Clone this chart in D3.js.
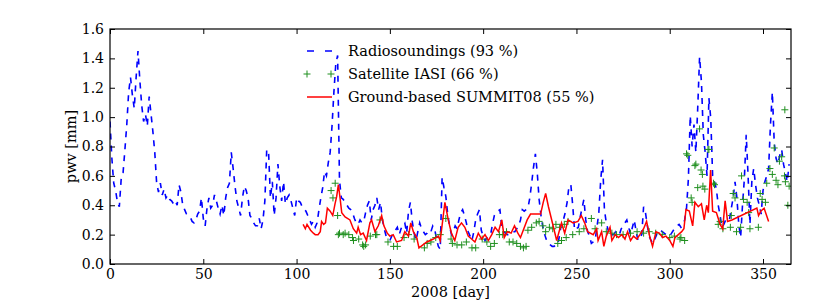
<!DOCTYPE html>
<html>
<head>
<meta charset="utf-8">
<script src="https://cdn.jsdelivr.net/npm/d3@7"></script>
<style>
  body { margin: 0; background: #fff; }
  text { font-family: "DejaVu Serif", serif; fill: #000; }
</style>
</head>
<body>
<div class="container"></div>
<script>
// radiosoundings, one value per day starting at day 0
var radioValues = [
  0.97,0.72,0.55,0.50,0.42,0.39,0.58,0.62,0.78,0.95,1.17,1.27,1.15,1.06,1.27,1.45,1.25,1.08,0.97,1.02,
  0.94,1.14,1.02,0.90,0.76,0.55,0.49,0.55,0.47,0.51,0.45,0.47,0.44,0.43,0.41,0.43,0.40,0.54,0.49,0.40,
  0.37,0.34,0.33,0.32,0.29,0.28,0.30,0.34,0.36,0.45,0.31,0.26,0.38,0.45,0.38,0.40,0.47,0.43,0.38,0.34,
  0.40,0.33,0.45,0.52,0.55,0.76,0.65,0.53,0.43,0.38,0.33,0.45,0.53,0.50,0.45,0.33,0.31,0.28,0.26,0.26,
  0.31,0.24,0.30,0.43,0.78,0.76,0.45,0.56,0.33,0.45,0.68,0.53,0.43,0.56,0.41,0.45,0.47,0.43,0.38,0.33,
  0.45,0.43,0.42,0.39,0.37,0.36,0.33,0.30,0.27,0.29,0.25,0.28,0.37,0.45,0.52,0.63,0.60,0.69,0.76,0.94,
  1.17,1.36,1.42,0.57,0.45,0.44,0.42,0.40,0.38,0.37,0.35,0.31,0.28,0.27,0.30,0.28,0.29,0.35,0.40,0.43,
  0.30,0.37,0.40,0.45,0.37,0.42,0.30,0.24,0.19,0.17,0.16,0.19,0.21,0.23,0.25,0.20,0.24,0.27,0.28,0.21,
  0.36,0.42,0.29,0.21,0.16,0.22,0.28,0.24,0.22,0.20,0.21,0.23,0.22,0.26,0.24,0.17,0.12,0.10,0.59,0.52,
  0.46,0.34,0.26,0.20,0.22,0.26,0.24,0.30,0.35,0.37,0.33,0.28,0.22,0.19,0.16,0.22,0.30,0.34,0.37,0.23,
  0.19,0.16,0.18,0.19,0.20,0.27,0.33,0.35,0.36,0.37,0.25,0.22,0.21,0.20,0.20,0.21,0.22,0.22,0.24,0.26,
  0.30,0.37,0.36,0.37,0.38,0.45,0.55,0.66,0.75,0.62,0.44,0.33,0.25,0.20,0.16,0.14,0.13,0.12,0.12,0.13,
  0.13,0.20,0.28,0.30,0.35,0.42,0.53,0.54,0.40,0.23,0.24,0.25,0.32,0.38,0.44,0.30,0.22,0.19,0.14,0.15,
  0.16,0.25,0.35,0.57,0.71,0.37,0.28,0.23,0.19,0.20,0.20,0.22,0.21,0.20,0.24,0.26,0.28,0.30,0.25,0.20,
  0.25,0.30,0.22,0.16,0.18,0.20,0.39,0.35,0.26,0.19,0.16,0.14,0.17,0.20,0.22,0.23,0.22,0.21,0.20,0.19,
  0.19,0.21,0.23,0.25,0.26,0.27,0.25,0.26,0.30,0.38,0.58,1.01,0.80,0.95,0.76,1.06,1.41,1.24,0.88,0.76,
  0.60,1.13,0.99,0.60,0.56,0.51,0.40,0.33,0.25,0.27,0.30,0.31,0.30,0.38,0.45,0.56,0.45,0.27,0.18,0.40,
  0.58,0.88,0.60,0.27,0.56,0.65,0.54,0.45,0.40,0.34,0.50,0.56,0.60,0.65,0.95,1.17,0.83,0.72,0.68,0.74,
  0.78,0.68,0.62,0.56,0.68
];

var iasiDays = [
  118.5,119.5,120.7,122,122.4,123,125,126,128,130,130.5,133.3,135.4,136,137,139.5,142.3,143,144.7,149,
  152,154,157.6,160,163,168.5,170,172,174.6,177,180,182.8,183.5,186,188.5,191,194,196,199.5,202,
  204,206,208.7,210.5,212.5,214,216,218,220,221.6,223,224,226,228.5,230,232,233.5,235.5,237.3,239,
  240,241,242,243.5,244.5,245.5,248,251.5,254,258,260,263.5,266,269,271.5,275,279,282.5,286,289,
  292.5,296,300,302.5,305.5,306,308,309,309.7,311.5,312,313.5,314,315,316,316.8,317.5,317.8,318.8,320.5,
  321,323.5,324,326,327,328.5,332.5,333,334,335,335.8,338,338.5,339.5,341.5,342.3,343,347.5,348.5,349.5,
  351.3,352,353.7,355,356,357,358,358.8,360,361.5,361.7,362,363.3,364
];
var iasiValues = [
  0.50,0.45,0.55,0.33,0.20,0.21,0.20,0.21,0.20,0.18,0.16,0.17,0.13,0.12,0.13,0.19,0.20,0.20,0.30,0.15,
  0.12,0.12,0.18,0.20,0.17,0.11,0.14,0.15,0.18,0.20,0.31,0.17,0.14,0.13,0.13,0.15,0.11,0.11,0.17,0.15,
  0.12,0.14,0.20,0.20,0.22,0.15,0.15,0.14,0.12,0.11,0.12,0.23,0.25,0.28,0.29,0.26,0.22,0.25,0.24,0.27,
  0.14,0.25,0.16,0.27,0.18,0.29,0.20,0.22,0.24,0.31,0.24,0.28,0.22,0.21,0.20,0.20,0.21,0.22,0.21,0.22,
  0.21,0.20,0.18,0.19,0.17,0.18,0.16,0.75,0.74,0.45,0.42,0.67,0.68,0.52,0.92,0.64,0.61,0.53,0.51,0.78,
  0.78,0.55,0.54,0.27,0.29,0.24,0.25,0.33,0.48,0.45,0.22,0.25,0.60,0.44,0.42,0.35,0.24,0.25,0.48,0.44,
  0.42,0.55,0.65,0.61,0.79,0.57,0.54,0.70,0.73,0.60,1.05,0.56,0.40,0.53
];

var summitDays = [
  103.5,104.7,105.6,107.5,109,110,111.5,112.7,113.4,114.5,115.5,116.5,118,119.4,120.6,121.5,122.4,123.3,124.2,126,
  128.6,130.4,132.2,133,134.3,135.7,137.5,139.3,140.2,142,143.8,145.6,146.8,148.6,150,151.8,153.6,156.3,158,160,
  161.2,162.6,164.4,165.6,169.8,173.3,176,177,179.5,181.3,183,184.8,186.6,188.4,190.2,192,193.8,195.6,197.4,199.2,
  201,202.8,204.6,206.4,208.2,210,211.3,213,215,216.8,218.6,220,221.8,223.6,225.4,227.2,230.8,232.2,233.5,235,
  237.7,239.4,242,243.7,245.5,248.2,250.8,252.6,254.4,256,259,260.8,261.6,263.5,264.7,266,268,269,270.8,272.5,
  274.3,276,277.4,279,280.6,282.4,284,286,287.6,289.4,290.8,292.6,294.4,296.2,298,300,301.7,302.8,304.6,306.4,
  307.6,308.7,310.5,312.3,313.5,315.3,317,318.5,319.8,320.7,321.9,323,325,327,328.4,329.7,331,333.3,346.7,347.6,
  348.8,350.6,353
];
var summitValues = [
  0.27,0.24,0.27,0.23,0.21,0.20,0.20,0.22,0.29,0.27,0.28,0.38,0.36,0.33,0.41,0.46,0.54,0.45,0.35,0.32,
  0.30,0.24,0.21,0.25,0.20,0.21,0.16,0.28,0.30,0.22,0.26,0.33,0.26,0.21,0.19,0.20,0.15,0.16,0.22,0.19,
  0.28,0.22,0.18,0.11,0.15,0.17,0.19,0.16,0.42,0.30,0.21,0.16,0.25,0.28,0.25,0.19,0.17,0.15,0.21,0.17,
  0.20,0.16,0.20,0.25,0.22,0.30,0.18,0.22,0.21,0.26,0.21,0.18,0.24,0.30,0.34,0.34,0.34,0.42,0.48,0.39,
  0.25,0.16,0.28,0.21,0.30,0.28,0.29,0.33,0.28,0.22,0.20,0.24,0.16,0.22,0.12,0.19,0.25,0.16,0.20,0.18,
  0.20,0.17,0.22,0.16,0.19,0.17,0.20,0.24,0.29,0.18,0.12,0.22,0.21,0.18,0.19,0.16,0.12,0.18,0.20,0.22,
  0.24,0.37,0.36,0.26,0.42,0.39,0.41,0.30,0.40,0.35,0.64,0.36,0.35,0.27,0.24,0.43,0.29,0.30,0.38,0.33,
  0.36,0.38,0.29
];

var xTicks = [0, 50, 100, 150, 200, 250, 300, 350];
var yTicks = [0.0, 0.2, 0.4, 0.6, 0.8, 1.0, 1.2, 1.4, 1.6];
var legendLabels = ['Radiosoundings (93 %)', 'Satellite IASI (66 %)', 'Ground-based SUMMIT08 (55 %)'];

const WIDTH = 830;
const HEIGHT = 302;
const LEFT = 110, RIGHT = 791, TOP = 29, BOTTOM = 264;
const BLUE = '#0000ff', GREEN = '#1f8f1f', RED = '#ff0000';

var svg = d3.select('.container').append('svg')
    .attr('width', WIDTH)
    .attr('height', HEIGHT);

var xScale = d3.scaleLinear().domain([0, 365]).range([LEFT, RIGHT]);
var yScale = d3.scaleLinear().domain([0, 1.6]).range([BOTTOM, TOP]);

var plot = svg.append('g');
plot.append('clipPath').attr('id', 'clip')
    .append('rect')
    .attr('x', LEFT).attr('y', TOP)
    .attr('width', RIGHT - LEFT).attr('height', BOTTOM - TOP);

var data = plot.append('g').attr('clip-path', 'url(#clip)');

// radiosoundings: blue dashed line
var radio = radioValues.map(function (v, i) { return [i, v]; });
var line = d3.line()
    .x(function (d) { return xScale(d[0]); })
    .y(function (d) { return yScale(d[1]); });

data.append('path')
    .datum(radio)
    .attr('d', line)
    .attr('fill', 'none')
    .attr('stroke', BLUE)
    .attr('stroke-width', 1.6)
    .attr('stroke-dasharray', '6,6');

// IASI: green plus markers
data.selectAll('path.iasi')
    .data(iasiDays.map(function (d, i) { return [d, iasiValues[i]]; }))
    .enter().append('path')
    .attr('class', 'iasi')
    .attr('d', 'M-3.5,0H3.5M0,-3.5V3.5')
    .attr('transform', function (d) { return 'translate(' + xScale(d[0]) + ',' + yScale(d[1]) + ')'; })
    .attr('stroke', GREEN)
    .attr('stroke-width', 1)
    .attr('fill', 'none');

// SUMMIT08: red line
data.append('path')
    .datum(summitDays.map(function (d, i) { return [d, summitValues[i]]; }))
    .attr('d', line)
    .attr('fill', 'none')
    .attr('stroke', RED)
    .attr('stroke-width', 1.5);

// frame
plot.append('rect')
    .attr('x', LEFT).attr('y', TOP)
    .attr('width', RIGHT - LEFT).attr('height', BOTTOM - TOP)
    .attr('fill', 'none')
    .attr('stroke', '#000')
    .attr('stroke-width', 1.2);

// axes, ticks pointing inward on all four sides
var xAxis = d3.axisBottom(xScale).tickValues(xTicks).tickSizeInner(-5).tickSizeOuter(0).tickPadding(5);
var xTop = d3.axisTop(xScale).tickValues(xTicks).tickSizeInner(-5).tickSizeOuter(0).tickFormat('');
var yAxis = d3.axisLeft(yScale).tickValues(yTicks).tickSizeInner(-5).tickSizeOuter(0).tickPadding(6)
    .tickFormat(d3.format('.1f'));
var yRight = d3.axisRight(yScale).tickValues(yTicks).tickSizeInner(-5).tickSizeOuter(0).tickFormat('');

function styleAxis(g) {
    g.select('.domain').remove();
    g.selectAll('.tick line').attr('stroke', '#000').attr('stroke-width', 1);
    g.selectAll('.tick text').attr('font-family', '"DejaVu Serif", serif').attr('font-size', 14).attr('fill', '#000');
}

plot.append('g').attr('transform', 'translate(0,' + BOTTOM + ')').call(xAxis).call(styleAxis);
plot.append('g').attr('transform', 'translate(0,' + TOP + ')').call(xTop).call(styleAxis);
plot.append('g').attr('transform', 'translate(' + LEFT + ',0)').call(yAxis).call(styleAxis);
plot.append('g').attr('transform', 'translate(' + RIGHT + ',0)').call(yRight).call(styleAxis);

// axis labels
svg.append('text')
    .attr('x', (LEFT + RIGHT) / 2)
    .attr('y', 297)
    .attr('text-anchor', 'middle')
    .attr('font-size', 14.5)
    .text('2008 [day]');

svg.append('text')
    .attr('transform', 'translate(76,' + ((TOP + BOTTOM) / 2) + ') rotate(-90)')
    .attr('text-anchor', 'middle')
    .attr('font-size', 14.5)
    .text('pwv [mm]');

// legend, no frame
var legend = svg.append('g').attr('transform', 'translate(307,51)');
var rowH = 23;

legend.append('line')
    .attr('x1', 0).attr('x2', 25).attr('y1', 0).attr('y2', 0)
    .attr('stroke', BLUE).attr('stroke-width', 1.6)
    .attr('stroke-dasharray', '7,11');
legend.selectAll('path.lp')
    .data([0, 24])
    .enter().append('path')
    .attr('class', 'lp')
    .attr('d', 'M-3.5,0H3.5M0,-3.5V3.5')
    .attr('transform', function (d) { return 'translate(' + d + ',' + rowH + ')'; })
    .attr('stroke', GREEN).attr('fill', 'none');
legend.append('line')
    .attr('x1', 0).attr('x2', 25).attr('y1', 2 * rowH).attr('y2', 2 * rowH)
    .attr('stroke', RED).attr('stroke-width', 1.5);

legend.selectAll('text')
    .data(legendLabels)
    .enter().append('text')
    .attr('x', 41)
    .attr('y', function (d, i) { return i * rowH + 5; })
    .attr('font-size', 14.5)
    .text(function (d) { return d; });
</script>
</body>
</html>
